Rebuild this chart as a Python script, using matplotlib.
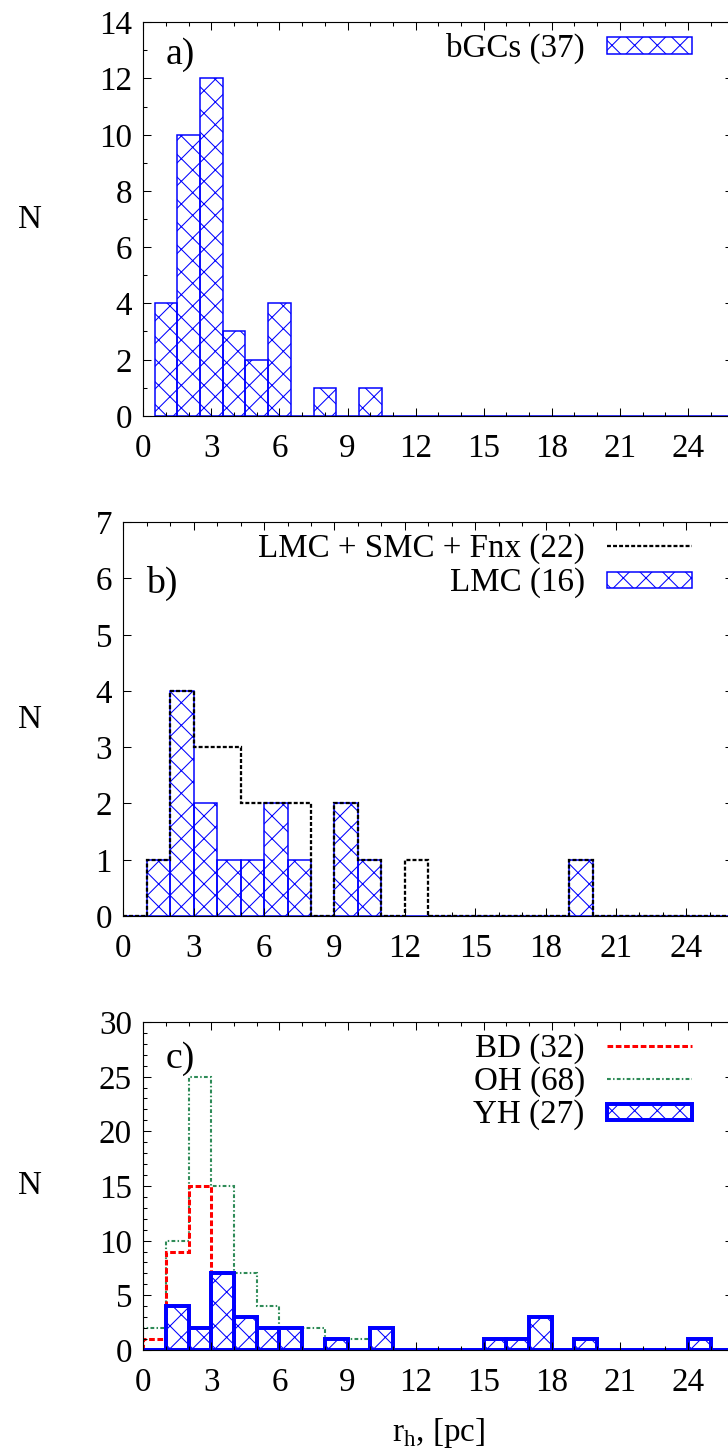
import matplotlib
matplotlib.use('Agg')
import matplotlib.pyplot as plt
import numpy as np
from matplotlib.patches import Rectangle
from matplotlib.lines import Line2D
from matplotlib.ticker import MultipleLocator

# ---------------- data ----------------
# panel a: bGCs, bins of width 1 starting at 0.5 pc
bgc_left_edge = 0.5
bgc_counts = [4, 10, 12, 3, 2, 4, 0, 1, 0, 1, 0, 0, 0, 0, 0, 0, 0, 0, 0, 0, 0, 0, 0, 0, 0, 0]

# panel b: integer bins [k, k+1]
lmc_counts = [0, 1, 4, 2, 1, 1, 2, 1, 0, 2, 1, 0, 0, 0, 0, 0, 0, 0, 0, 1, 0, 0, 0, 0, 0, 0]
lsf_counts = [0, 1, 4, 3, 3, 2, 2, 2, 0, 2, 1, 0, 1, 0, 0, 0, 0, 0, 0, 1, 0, 0, 0, 0, 0, 0]

# panel c: integer bins [k, k+1]
bd_counts = [1, 9, 15, 7, 0, 0, 0, 0, 0, 0, 0, 0, 0, 0, 0, 0, 0, 0, 0, 0, 0, 0, 0, 0, 0, 0]
oh_counts = [2, 10, 25, 15, 7, 4, 2, 2, 1, 1, 0, 0, 0, 0, 0, 0, 0, 0, 0, 0, 0, 0, 0, 0, 0, 0]
yh_counts = [0, 4, 2, 7, 3, 2, 2, 0, 1, 0, 2, 0, 0, 0, 0, 1, 1, 3, 0, 1, 0, 0, 0, 0, 1, 0]

labels_a = ["bGCs (37)"]
labels_b = ["LMC + SMC + Fnx (22)", "LMC (16)"]
labels_c = ["BD (32)", "OH (68)", "YH (27)"]
xticks = [0, 3, 6, 9, 12, 15, 18, 21, 24]

# ---------------- style ----------------
DPI = 136
W, H = 728, 1452
plt.rcParams['font.family'] = ['Liberation Serif', 'DejaVu Serif']
plt.rcParams['mathtext.fontset'] = 'custom'
plt.rcParams['mathtext.rm'] = 'Liberation Serif'
plt.rcParams['hatch.linewidth'] = 0.55
plt.rcParams['lines.scale_dashes'] = False
FS = 17.5  # pt at 136 dpi -> ~33 px em
FS_PANEL = 20
EM = FS * DPI / 72.0
BLUE = '#0000ff'
RED = '#ff0000'
GREEN = '#2e8b57'
HATCH = 'xx'

fig = plt.figure(figsize=((W + 0.3) / DPI, (H + 0.3) / DPI), dpi=DPI)


def add_ax(left, top, right, bottom):
    return fig.add_axes([left / W, 1 - bottom / H, (right - left) / W, (bottom - top) / H])


def style(ax, ymax, ymajor, yminor):
    ax.set_xlim(0, 26)
    ax.set_ylim(0, ymax)
    ax.set_xticks(xticks)
    ax.xaxis.set_minor_locator(MultipleLocator(1))
    ax.yaxis.set_major_locator(MultipleLocator(ymajor))
    if yminor:
        ax.yaxis.set_minor_locator(MultipleLocator(yminor))
    ax.tick_params(which='both', direction='in', top=True, right=True, width=0.55, labelsize=FS)
    ax.tick_params(which='major', length=4.2)
    ax.tick_params(which='minor', length=2.1)
    ax.tick_params(axis='x', pad=9)
    ax.tick_params(axis='y', pad=6)
    for s in ax.spines.values():
        s.set_linewidth(0.6)


def fx(x):
    return x / W


def fy(y):
    return 1 - y / H


def leg_text(x, yc, s):
    fig.text(fx(x), fy(yc + 0.33 * EM), s, ha='right', va='baseline', fontsize=FS)


def leg_box(yc, lw):
    r = Rectangle((fx(606.6), fy(yc + 8.3)), (692 - 606.6) / W, 16.6 / H,
                  transform=fig.transFigure, facecolor='none', edgecolor=BLUE,
                  hatch=HATCH, lw=lw)
    fig.add_artist(r)


def leg_line(yc, **kw):
    fig.add_artist(Line2D([fx(606.6), fx(692)], [fy(yc), fy(yc)], transform=fig.transFigure, **kw))


# ---------------- panel a ----------------
axa = add_ax(143.3, 22.5, 733, 416)
ca = bgc_left_edge + 0.5 + np.arange(len(bgc_counts))
axa.bar(ca, bgc_counts, width=1.0, facecolor='none', edgecolor=BLUE, hatch=HATCH, lw=0.8)
style(axa, 14, 2, 1)
fig.text(fx(166), fy(64), 'a)', fontsize=FS_PANEL, ha='left', va='baseline')
leg_text(584.6, 46, labels_a[0])
leg_box(46, 0.8)

# ---------------- panel b ----------------
axb = add_ax(123.3, 522.3, 733, 916)
eb = np.arange(len(lmc_counts) + 1)
axb.bar(eb[:-1] + 0.5, lmc_counts, width=1.0, facecolor='none', edgecolor=BLUE, hatch=HATCH, lw=0.8)
axb.stairs(lsf_counts, eb, baseline=0, color='k', lw=1.2, linestyle=(0, (2.1, 1.1)))
style(axb, 7, 1, None)
fig.text(fx(146), fy(593), 'b)', fontsize=FS_PANEL, ha='left', va='baseline')
leg_text(584.6, 546, labels_b[0])
leg_line(546, color='k', lw=1.2, linestyle=(0, (2.1, 1.1)))
leg_text(584.6, 580, labels_b[1])
leg_box(580, 0.8)

# ---------------- panel c ----------------
axc = add_ax(143.3, 1022, 733, 1350)
ec = np.arange(len(yh_counts) + 1)
axc.stairs(oh_counts, ec, baseline=0, color=GREEN, lw=1.1, linestyle=(0, (2.0, 1.2, 0.8, 1.2)))
axc.stairs(bd_counts, ec, baseline=0, color=RED, lw=1.6, linestyle=(0, (3.0, 1.4)))
axc.bar(ec[:-1] + 0.5, yh_counts, width=1.0, facecolor='none', edgecolor=BLUE, hatch=HATCH, lw=2.1)
style(axc, 30, 5, 1)
fig.text(fx(166), fy(1068), 'c)', fontsize=FS_PANEL, ha='left', va='baseline')
leg_text(584.6, 1046, labels_c[0])
leg_line(1046, color=RED, lw=1.6, linestyle=(0, (3.0, 1.4)))
leg_text(584.6, 1079, labels_c[1])
leg_line(1079, color=GREEN, lw=1.1, linestyle=(0, (2.0, 1.2, 0.8, 1.2)))
leg_text(584.6, 1112, labels_c[2])
leg_box(1112, 2.1)

# axis labels
for yc in [(22.5 + 416) / 2, (522.3 + 916) / 2, (1022 + 1350) / 2]:
    fig.text(fx(30), fy(yc), 'N', fontsize=FS, ha='center', va='center')
fig.text(fx(438), fy(1433), r'r$_\mathregular{h}$, [pc]', fontsize=FS, ha='center', va='center')

fig.savefig('out.png', dpi=DPI)
